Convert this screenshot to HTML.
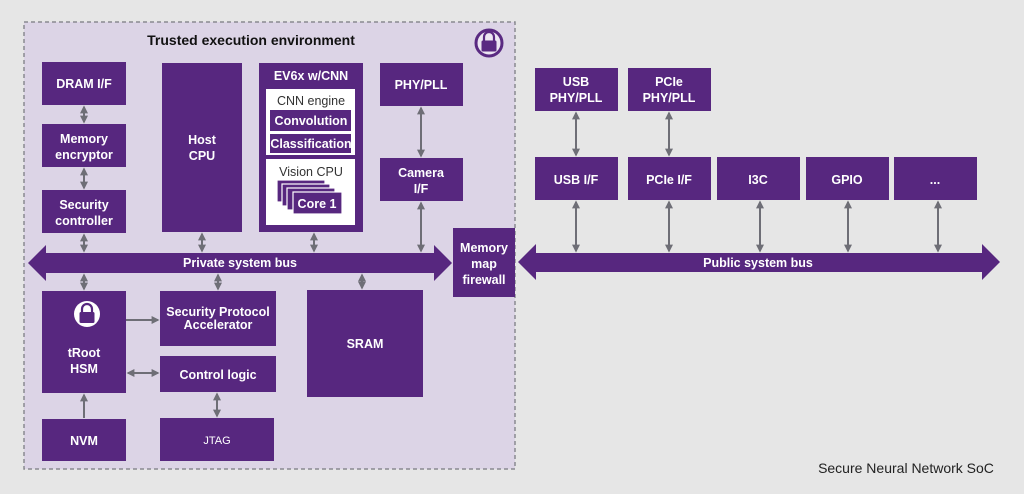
<!DOCTYPE html>
<html><head><meta charset="utf-8"><style>
html,body{margin:0;padding:0;background:#e6e6e6;}
svg{display:block;}
text{font-family:"Liberation Sans",sans-serif;font-weight:bold;fill:#fff;text-anchor:middle;}
</style></head><body>
<svg width="1024" height="494" viewBox="0 0 1024 494" xmlns="http://www.w3.org/2000/svg">
<defs>
<marker id="a" viewBox="0 0 10 10" refX="8" refY="5" markerWidth="4" markerHeight="4" orient="auto-start-reverse"><path d="M0,0 L10,5 L0,10 z" fill="#6e6e76"/></marker>
</defs>
<rect width="1024" height="494" fill="#e6e6e6"/>
<rect x="24" y="22" width="491" height="447" fill="#dcd4e6" stroke="#8a8a90" stroke-width="1.5" stroke-dasharray="4,3"/>
<text x="251" y="45" style="fill:#111;font-size:14px">Trusted execution environment</text>
<circle cx="489" cy="43" r="13" fill="#ece6f2" stroke="#5a2a82" stroke-width="3"/>
<path d="M484,41 v-4 a5,5 0 0 1 10,0 v4" fill="none" stroke="#5a2a82" stroke-width="2.2"/>
<rect x="481.5" y="40.5" width="15" height="11" rx="1.5" fill="#5a2a82"/>
<g fill="#57277f">
<rect x="42" y="62" width="84" height="43"/>
<rect x="42" y="124" width="84" height="43"/>
<rect x="42" y="190" width="84" height="43"/>
<rect x="162" y="63" width="80" height="169"/>
<rect x="259" y="63" width="104" height="169"/>
<rect x="380" y="63" width="83" height="43"/>
<rect x="380" y="158" width="83" height="43"/>
<rect x="453" y="228" width="62" height="69"/>
<rect x="42" y="291" width="84" height="102"/>
<rect x="160" y="291" width="116" height="55"/>
<rect x="160" y="356" width="116" height="36"/>
<rect x="307" y="290" width="116" height="107"/>
<rect x="42" y="419" width="84" height="42"/>
<rect x="160" y="418" width="114" height="43"/>
<rect x="535" y="68" width="83" height="43"/>
<rect x="628" y="68" width="83" height="43"/>
<rect x="535" y="157" width="83" height="43"/>
<rect x="628" y="157" width="83" height="43"/>
<rect x="717" y="157" width="83" height="43"/>
<rect x="806" y="157" width="83" height="43"/>
<rect x="894" y="157" width="83" height="43"/>
<path d="M28,263 L46,245 L46,253 L434,253 L434,245 L452,263 L434,281 L434,273 L46,273 L46,281 z"/>
<path d="M518,262 L536,244 L536,253 L982,253 L982,244 L1000,262 L982,280 L982,272 L536,272 L536,280 z"/>
</g>
<rect x="266" y="89" width="89" height="66" fill="#fff"/>
<rect x="270" y="110" width="81" height="21" fill="#57277f"/>
<rect x="270" y="134" width="81" height="19" fill="#57277f"/>
<rect x="266" y="159" width="89" height="66" fill="#fff"/>
<g fill="#57277f" stroke="#fff" stroke-width="1.2">
<rect x="277" y="180" width="48" height="22"/>
<rect x="282" y="184" width="48" height="22"/>
<rect x="287" y="188" width="48" height="22"/>
<rect x="293" y="192" width="49" height="22"/>
</g>
<g font-size="12.5">
<text x="84" y="88">DRAM I/F</text>
<text x="84" y="143">Memory</text><text x="84" y="159">encryptor</text>
<text x="84" y="209">Security</text><text x="84" y="225">controller</text>
<text x="202" y="144">Host</text><text x="202" y="160">CPU</text>
<text x="311" y="80">EV6x w/CNN</text>
<text x="311" y="105" style="fill:#333;font-weight:normal">CNN engine</text>
<text x="311" y="125">Convolution</text>
<text x="311" y="148">Classification</text>
<text x="311" y="176" style="fill:#333;font-weight:normal">Vision CPU</text>
<text x="317" y="208">Core 1</text>
<text x="421" y="89">PHY/PLL</text>
<text x="421" y="177">Camera</text><text x="421" y="193">I/F</text>
<text x="484" y="252">Memory</text><text x="484" y="268">map</text><text x="484" y="284">firewall</text>
<text x="240" y="267">Private system bus</text>
<text x="758" y="267">Public system bus</text>
<text x="84" y="357">tRoot</text><text x="84" y="373">HSM</text>
<text x="218" y="316">Security Protocol</text><text x="218" y="329">Accelerator</text>
<text x="218" y="379">Control logic</text>
<text x="365" y="348">SRAM</text>
<text x="84" y="445">NVM</text>
<text x="217" y="444" style="font-weight:normal;font-size:11px">JTAG</text>
<text x="576" y="86">USB</text><text x="576" y="102">PHY/PLL</text>
<text x="669" y="86">PCIe</text><text x="669" y="102">PHY/PLL</text>
<text x="576" y="184">USB I/F</text>
<text x="669" y="184">PCIe I/F</text>
<text x="758" y="184">I3C</text>
<text x="847" y="184">GPIO</text>
<text x="935" y="184">...</text>
</g>
<circle cx="87" cy="314" r="13" fill="#fff"/>
<path d="M82,313 v-4 a5,5 0 0 1 10,0 v4" fill="none" stroke="#57277f" stroke-width="2.2"/>
<rect x="79.5" y="312" width="15" height="11" rx="1.5" fill="#57277f"/>
<g stroke="#6e6e76" stroke-width="2" marker-start="url(#a)" marker-end="url(#a)" fill="none">
<line x1="84" y1="107" x2="84" y2="122"/>
<line x1="84" y1="169" x2="84" y2="188"/>
<line x1="84" y1="235" x2="84" y2="251"/>
<line x1="202" y1="234" x2="202" y2="251"/>
<line x1="314" y1="234" x2="314" y2="251"/>
<line x1="421" y1="108" x2="421" y2="156"/>
<line x1="421" y1="203" x2="421" y2="251"/>
<line x1="84" y1="275" x2="84" y2="289"/>
<line x1="218" y1="275" x2="218" y2="289"/>
<line x1="362" y1="275" x2="362" y2="288"/>
<line x1="128" y1="373" x2="158" y2="373"/>
<line x1="217" y1="394" x2="217" y2="416"/>
<line x1="576" y1="113" x2="576" y2="155"/>
<line x1="669" y1="113" x2="669" y2="155"/>
<line x1="576" y1="202" x2="576" y2="251"/>
<line x1="669" y1="202" x2="669" y2="251"/>
<line x1="760" y1="202" x2="760" y2="251"/>
<line x1="848" y1="202" x2="848" y2="251"/>
<line x1="938" y1="202" x2="938" y2="251"/>
</g>
<g stroke="#6e6e76" stroke-width="2" marker-end="url(#a)" fill="none">
<line x1="126" y1="320" x2="158" y2="320"/>
<line x1="84" y1="418" x2="84" y2="395"/>
</g>
<text x="906" y="473" style="fill:#222;font-weight:normal;font-size:14px">Secure Neural Network SoC</text>
</svg>
</body></html>
